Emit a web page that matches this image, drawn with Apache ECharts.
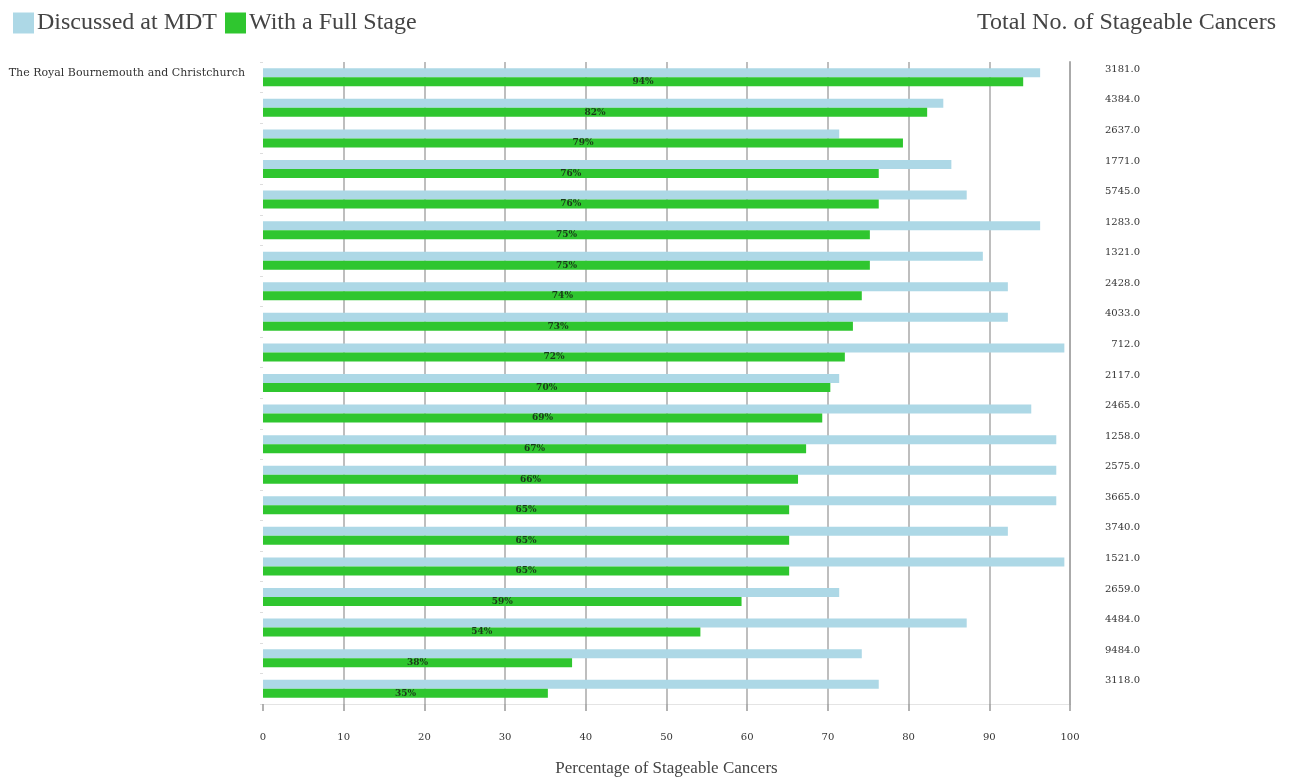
<!DOCTYPE html>
<html>
<head>
<meta charset="utf-8">
<script src="https://cdn.jsdelivr.net/npm/echarts@6/dist/echarts.min.js"></script>
<style>html,body{margin:0;padding:0;background:#fff}#c{width:1293px;height:778px}</style>
</head>
<body>
<div id="c"></div>
<script>
const trustNames = ['The Royal Bournemouth and Christchurch','','','','','','','','','','','','','','','','','','','',''];
const totals = ['3181.0','4384.0','2637.0','1771.0','5745.0','1283.0','1321.0','2428.0','4033.0','712.0','2117.0','2465.0','1258.0','2575.0','3665.0','3740.0','1521.0','2659.0','4484.0','9484.0','3118.0'];
const discussedAtMDT = [96.3,84.3,71.4,85.3,87.2,96.3,89.2,92.3,92.3,99.3,71.4,95.2,98.3,98.3,98.3,92.3,99.3,71.4,87.2,74.2,76.3];
const withFullStage = [94.2,82.3,79.3,76.3,76.3,75.2,75.2,74.2,73.1,72.1,70.3,69.3,67.3,66.3,65.2,65.2,65.2,59.3,54.2,38.3,35.3];
const xTicks = [0,10,20,30,40,50,60,70,80,90,100];

const serif = '"Liberation Serif", "DejaVu Serif", serif';
const smallSerif = '"DejaVu Serif", serif';
const chart = echarts.init(document.getElementById('c'));
chart.setOption({
  animation: false,
  title: {
    text: 'Total No. of Stageable Cancers',
    right: 12, top: 6,
    textStyle: {fontFamily: serif, fontSize: 24, fontWeight: 'normal', color: '#444'}
  },
  legend: {
    left: 8, top: 6,
    itemWidth: 21, itemHeight: 21, itemGap: 8,
    icon: 'rect',
    textStyle: {fontFamily: serif, fontSize: 24, color: '#444', padding: [0,0,0,-2]},
    data: ['Discussed at MDT','With a Full Stage']
  },
  grid: {left: 263, right: 223, top: 62, height: 642, outerBoundsMode: 'none', containLabel: false},
  xAxis: {
    type: 'value', min: 0, max: 100, interval: 10,
    name: 'Percentage of Stageable Cancers',
    nameLocation: 'middle', nameGap: 56,
    nameTextStyle: {fontFamily: serif, fontSize: 17, color: '#444'},
    axisLine: {show: true, lineStyle: {color: '#e4e4e4', width: 1}},
    axisTick: {show: true, length: 7, lineStyle: {color: '#999', width: 1.5}},
    axisLabel: {margin: 28, fontFamily: smallSerif, fontSize: 10, color: '#333',
      formatter: v => xTicks.includes(v) ? String(v) : ''},
    splitLine: {show: true, showMinLine: false, lineStyle: {color: '#a8a8a8', width: 1.5}}
  },
  yAxis: [
    {
      type: 'category', inverse: true, data: trustNames,
      axisLine: {show: false},
      axisTick: {show: true, length: 3, lineStyle: {color: '#ddd'}},
      axisLabel: {margin: 18, fontFamily: smallSerif, fontSize: 11, color: '#333', verticalAlign: 'bottom', padding: [0,0,-1,0]}
    },
    {
      type: 'category', inverse: true, position: 'right', data: totals,
      axisLine: {show: true, lineStyle: {color: '#aaa', width: 2}},
      axisTick: {show: false},
      axisLabel: {margin: 70, align: 'right', fontFamily: smallSerif, fontSize: 10, color: '#333', verticalAlign: 'bottom', padding: [0,0,3,0]}
    }
  ],
  series: [
    {
      name: 'Discussed at MDT', type: 'bar', yAxisIndex: 0,
      data: discussedAtMDT, barWidth: 9, barGap: '0%',
      itemStyle: {color: '#add8e6'}
    },
    {
      name: 'With a Full Stage', type: 'bar', yAxisIndex: 0,
      data: withFullStage, barWidth: 9, barGap: '0%',
      itemStyle: {color: '#2fc62f'},
      label: {show: true, position: 'inside', formatter: p => Math.round(p.value) + '%',
        fontFamily: smallSerif, fontSize: 9, fontWeight: 'bold', color: '#1a3a1a'}
    }
  ]
});
</script>
</body>
</html>
